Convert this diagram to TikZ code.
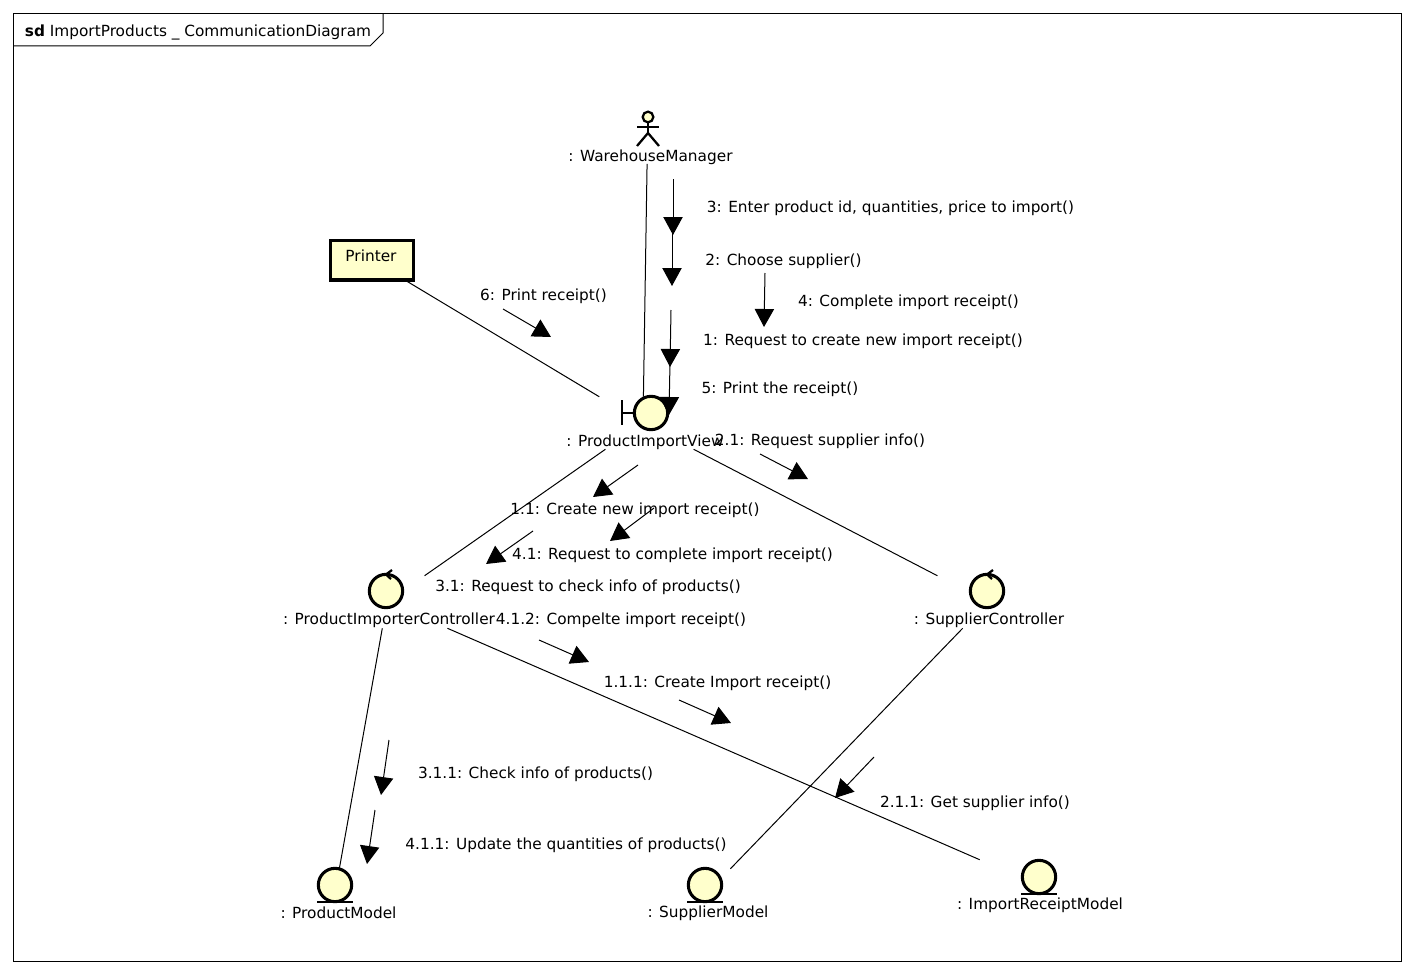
\documentclass[tikz,border=0pt]{standalone}
\usepackage{fontspec}
\setmainfont{DejaVu Sans}
\definecolor{umlyellow}{RGB}{255, 255, 204}
\usetikzlibrary{
  arrows.meta,
  positioning,
}
\tikzset{
  >={Triangle[length=13.5pt,width=14.5pt]},
  txt/.style={inner sep=0pt,yshift=-1.5pt,font=\fontsize{11.5}{13}\selectfont},
  elembox/.style={rectangle,inner sep=0pt},
  link/.style={line width=0.75pt},
  msg/.style={line width=0.75pt,->},
  icon/.style={draw,circle,line width=2.3pt,fill=umlyellow,minimum size=25pt,inner sep=0pt},
  iconline/.style={line width=2.2pt},
  stick/.style={line width=1.7pt},
}
\begin{document}
\begin{tikzpicture}[x=0.75pt,y=-0.75pt]
        \useasboundingbox (0,0) rectangle (1414,974);

        % frame
        \coordinate (f0) at (13.5,13.5);
        \coordinate (f1) at (1401.5,961.5);
        \draw[link] (f0) rectangle (f1);
        \coordinate (t0) at (13.5,46);
        \coordinate (t1) at (370,46);
        \coordinate (t2) at (383,33);
        \coordinate (t3) at (383,13.5);
        \draw[link] (t0) -- (t1) -- (t2) -- (t3);
        \node[txt] (title) at (198,30) {\textbf{sd} ImportProducts \_ CommunicationDiagram};

        % elements: an empty box round icon and label, the links stop at it
        \node[elembox,minimum width=120,minimum height=40] (manager) at (647.5,137) {};
        \node[elembox,minimum width=117,minimum height=39] (view) at (643,423) {};
        \node[elembox,minimum width=156,minimum height=39] (importer) at (387,602) {};
        \node[elembox,minimum width=111,minimum height=39] (supplier) at (988,602) {};
        \node[elembox,minimum width=87,minimum height=34.5] (productm) at (335,893) {};
        \node[elembox,minimum width=91,minimum height=34.5] (supplierm) at (708,892) {};
        \node[elembox,minimum width=125,minimum height=39] (receiptm) at (1040,886) {};
        \node[draw,rectangle,line width=2.4pt,fill=umlyellow,minimum width=62,minimum height=29.5] (printer) at (372,260.3) {};
        \node[txt] (printerl) at (371,254) {Printer};

        % links
        \draw[link] (manager) -- (view);
        \draw[link] (printer) -- (view);
        \draw[link] (view) -- (importer);
        \draw[link] (view) -- (supplier);
        \draw[link] (importer) -- (productm);
        \draw[link] (importer) -- (receiptm);
        \draw[link] (supplier) -- (supplierm);

        % actor
        \node[draw,circle,stick,fill=umlyellow,minimum size=8pt,inner sep=0pt] (head) at (648,117) {};
        \coordinate (hip) at (648,133);
        \coordinate (arml) at (637,127);
        \coordinate (armr) at (659,127);
        \coordinate (legl) at (637,146);
        \coordinate (legr) at (659,146);
        \draw[stick] (head) -- (hip);
        \draw[stick] (arml) -- (armr);
        \draw[stick] (legl) -- (hip) -- (legr);
        \node[txt] (managerl) at (650.5,155) {: WarehouseManager};

        % boundary
        \node[icon] (viewi) at (651,413) {};
        \coordinate (bar0) at (622,400);
        \coordinate (bar1) at (622,425);
        \coordinate (bar2) at (622,413);
        \draw[iconline] (bar0) -- (bar1);
        \draw[iconline] (bar2) -- (viewi);
        \node[txt] (viewl) at (645,440) {: ProductImportView};

        % controllers
        \node[icon] (importeri) at (386,591) {};
        \coordinate (ia0) at (392,570);
        \coordinate (ia1) at (386,574.5);
        \coordinate (ia2) at (391,579);
        \draw[stick] (ia0) -- (ia1) -- (ia2);
        \node[txt] (importerl) at (389,618) {: ProductImporterController};
        \node[icon] (supplieri) at (987,591) {};
        \coordinate (sa0) at (993,570);
        \coordinate (sa1) at (987,574.5);
        \coordinate (sa2) at (992,579);
        \draw[stick] (sa0) -- (sa1) -- (sa2);
        \node[txt] (supplierl) at (989,618) {: SupplierController};

        % models
        \node[icon] (productmi) at (335,885) {};
        \coordinate (pu0) at (317,902);
        \coordinate (pu1) at (353,902);
        \draw[stick] (pu0) -- (pu1);
        \node[txt] (productml) at (338.5,911) {: ProductModel};
        \node[icon] (suppliermi) at (705,885) {};
        \coordinate (su0) at (687,902);
        \coordinate (su1) at (723,902);
        \draw[stick] (su0) -- (su1);
        \node[txt] (suppliermll) at (708,911) {: SupplierModel};
        \node[icon] (receiptmi) at (1039,877) {};
        \coordinate (ru0) at (1021,894);
        \coordinate (ru1) at (1057,894);
        \draw[stick] (ru0) -- (ru1);
        \node[txt] (receiptml) at (1040,903) {: ImportReceiptModel};

        % messages
        \node[txt] (m3) at (890.5,206) {3: Enter product id, quantities, price to import()};
        \coordinate (m3a) at (673,179);
        \coordinate (m3b) at (673,235);
        \draw[msg] (m3a) -- (m3b);
        \node[txt] (m2) at (783.5,259) {2: Choose supplier()};
        \coordinate (m2a) at (672,233);
        \coordinate (m2b) at (672,286);
        \draw[msg] (m2a) -- (m2b);
        \node[txt] (m4) at (908.5,300) {4: Complete import receipt()};
        \coordinate (m4a) at (765,273);
        \coordinate (m4b) at (764,327);
        \draw[msg] (m4a) -- (m4b);
        \node[txt] (m1) at (863,339) {1: Request to create new import receipt()};
        \coordinate (m1a) at (671,310);
        \coordinate (m1b) at (670,367);
        \draw[msg] (m1a) -- (m1b);
        \node[txt] (m5) at (780,387) {5: Print the receipt()};
        \coordinate (m5a) at (670,362);
        \coordinate (m5b) at (669,415);
        \draw[msg] (m5a) -- (m5b);
        \node[txt] (m6) at (543.5,294) {6: Print receipt()};
        \coordinate (m6a) at (503,309);
        \coordinate (m6b) at (551,337);
        \draw[msg] (m6a) -- (m6b);
        \node[txt] (m21) at (820,439) {2.1: Request supplier info()};
        \coordinate (m21a) at (760,454);
        \coordinate (m21b) at (808,479);
        \draw[msg] (m21a) -- (m21b);
        \node[txt] (m11) at (635,508) {1.1: Create new import receipt()};
        \coordinate (m11a) at (638,465);
        \coordinate (m11b) at (593,497);
        \draw[msg] (m11a) -- (m11b);
        \node[txt] (m41) at (672.5,553) {4.1: Request to complete import receipt()};
        \coordinate (m41a) at (654,508);
        \coordinate (m41b) at (610,541);
        \draw[msg] (m41a) -- (m41b);
        \node[txt] (m31) at (588,585) {3.1: Request to check info of products()};
        \coordinate (m31a) at (533,531);
        \coordinate (m31b) at (486,564);
        \draw[msg] (m31a) -- (m31b);
        \node[txt] (m412) at (621,618) {4.1.2: Compelte import receipt()};
        \coordinate (m412a) at (539,640);
        \coordinate (m412b) at (589,662);
        \draw[msg] (m412a) -- (m412b);
        \node[txt] (m111) at (717.5,681) {1.1.1: Create Import receipt()};
        \coordinate (m111a) at (679,700);
        \coordinate (m111b) at (731,723);
        \draw[msg] (m111a) -- (m111b);
        \node[txt] (m311) at (535.5,772) {3.1.1: Check info of products()};
        \coordinate (m311a) at (389,740);
        \coordinate (m311b) at (381,795);
        \draw[msg] (m311a) -- (m311b);
        \node[txt] (m411) at (566,843) {4.1.1: Update the quantities of products()};
        \coordinate (m411a) at (375,810);
        \coordinate (m411b) at (367,864);
        \draw[msg] (m411a) -- (m411b);
        \node[txt] (m211) at (975,801) {2.1.1: Get supplier info()};
        \coordinate (m211a) at (874,757);
        \coordinate (m211b) at (835,798);
        \draw[msg] (m211a) -- (m211b);
    \end{tikzpicture}
\end{document}
